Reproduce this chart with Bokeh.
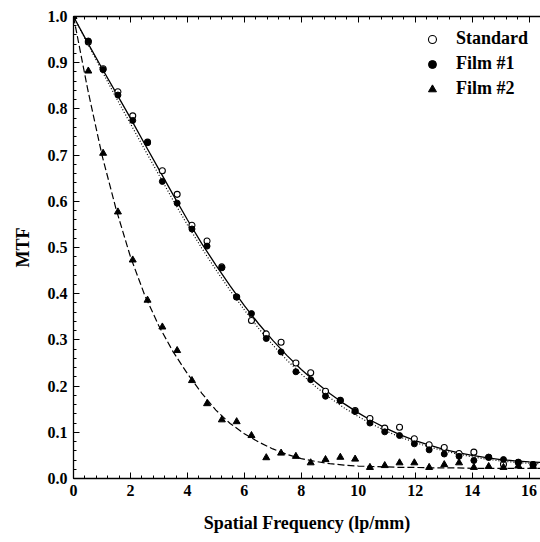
from bokeh.plotting import figure
from bokeh.models import (LinearAxis, Range1d, Legend, LegendItem,
                          SingleIntervalTicker, NumeralTickFormatter)
from bokeh.embed import file_html
from bokeh.resources import INLINE

# measured points
freq = [0.0, 0.52, 1.04, 1.56, 2.08, 2.60, 3.12, 3.64, 4.16, 4.69, 5.21, 5.73,
        6.25, 6.77, 7.29, 7.81, 8.33, 8.85, 9.37, 9.89, 10.41, 10.93, 11.45,
        11.97, 12.49, 13.02, 13.54, 14.06, 14.58, 15.10, 15.62, 16.14]
standard = [1.0, 0.945, 0.887, 0.837, 0.785, 0.728, 0.666, 0.615, 0.548, 0.514,
            0.458, 0.393, 0.342, 0.313, 0.295, 0.250, 0.229, 0.189, 0.169,
            0.147, 0.130, 0.109, 0.111, 0.086, 0.073, 0.067, 0.054, 0.057,
            0.046, 0.031, 0.035, 0.030]
film1 = [1.0, 0.947, 0.885, 0.830, 0.775, 0.727, 0.643, 0.596, 0.540, 0.503,
         0.456, 0.393, 0.357, 0.303, 0.274, 0.231, 0.214, 0.178, 0.169, 0.145,
         0.120, 0.101, 0.093, 0.075, 0.062, 0.053, 0.048, 0.039, 0.046, 0.041,
         0.035, 0.030]
film2 = [1.0, 0.882, 0.704, 0.577, 0.473, 0.386, 0.328, 0.277, 0.212, 0.162,
         0.127, 0.123, 0.093, 0.045, 0.055, 0.048, 0.034, 0.041, 0.046, 0.042,
         0.024, 0.028, 0.034, 0.034, 0.024, 0.030, 0.034, 0.024, 0.026, 0.024,
         0.027, 0.026]

# fitted curves
fit_x = [0.0, 0.5, 1.0, 1.5, 2.0, 2.5, 3.0, 3.5, 4.0, 4.5, 5.0, 5.5, 6.0, 6.5,
         7.0, 7.5, 8.0, 8.5, 9.0, 9.5, 10.0, 10.5, 11.0, 11.5, 12.0, 12.5,
         13.0, 13.5, 14.0, 14.5, 15.0, 15.5, 16.0, 16.4]
fit_standard = [1.0, 0.943, 0.888, 0.834, 0.780, 0.724, 0.669, 0.614, 0.560,
                0.509, 0.462, 0.417, 0.374, 0.335, 0.299, 0.266, 0.236, 0.209,
                0.184, 0.162, 0.142, 0.124, 0.108, 0.094, 0.082, 0.072, 0.063,
                0.056, 0.050, 0.045, 0.041, 0.038, 0.036, 0.035]
fit_film1 = [1.0, 0.941, 0.882, 0.824, 0.768, 0.712, 0.657, 0.602, 0.549,
             0.499, 0.452, 0.407, 0.365, 0.325, 0.289, 0.256, 0.226, 0.199,
             0.175, 0.153, 0.134, 0.117, 0.102, 0.089, 0.078, 0.068, 0.060,
             0.053, 0.047, 0.042, 0.038, 0.035, 0.033, 0.032]
fit_film2 = [1.0, 0.842, 0.700, 0.582, 0.480, 0.397, 0.330, 0.274, 0.227,
             0.185, 0.148, 0.119, 0.097, 0.079, 0.064, 0.052, 0.043, 0.037,
             0.032, 0.029, 0.027, 0.026, 0.025, 0.024, 0.024, 0.023, 0.023,
             0.023, 0.022, 0.022, 0.022, 0.022, 0.022, 0.022]

FONT = "Liberation Serif"

p = figure(width=540, height=540, output_backend="svg", toolbar_location=None,
           x_range=Range1d(0, 16.4), y_range=Range1d(0, 1.0),
           min_border_left=73, min_border_right=0, min_border_top=16,
           min_border_bottom=62)
p.outline_line_color = None
p.grid.visible = False
p.background_fill_color = "white"
p.border_fill_color = "white"

xt = SingleIntervalTicker(interval=2, num_minor_ticks=5)
yt = SingleIntervalTicker(interval=0.1, num_minor_ticks=5)

for ax in (p.xaxis[0], p.yaxis[0]):
    ax.major_tick_in = 6
    ax.major_tick_out = 0
    ax.minor_tick_in = 3
    ax.minor_tick_out = 0
    ax.axis_line_color = "black"
    ax.axis_line_width = 1.3
    ax.major_label_text_font = FONT
    ax.major_label_text_font_style = "bold"
    ax.major_label_text_font_size = "16px"
    ax.major_label_text_color = "black"
    ax.axis_label_text_font = FONT
    ax.axis_label_text_font_style = "bold"
    ax.axis_label_text_font_size = "18px"
    ax.axis_label_text_color = "black"

p.xaxis[0].ticker = xt
p.yaxis[0].ticker = yt
p.yaxis[0].formatter = NumeralTickFormatter(format="0.0")
p.xaxis[0].axis_label = "Spatial Frequency (lp/mm)"
p.yaxis[0].axis_label = "MTF"
p.xaxis[0].major_label_standoff = 6
p.xaxis[0].axis_label_standoff = 14
p.yaxis[0].major_label_standoff = 6
p.yaxis[0].axis_label_standoff = 12

top = LinearAxis(ticker=xt, major_tick_in=6, major_tick_out=0,
                 minor_tick_in=3, minor_tick_out=0,
                 major_label_text_font_size="0px", major_label_standoff=0,
                 axis_line_width=1.3)
top.major_label_text_color = None
p.add_layout(top, "above")

r_fs = p.line(fit_x, fit_standard, line_color="black", line_width=1.3)
r_f1 = p.line(fit_x, fit_film1, line_color="black", line_width=1.2,
              line_dash="1 2")
r_f2 = p.line(fit_x, fit_film2, line_color="black", line_width=1.2,
              line_dash="7 3")

r_s = p.scatter(freq, standard, marker="circle", size=6,
                fill_color="white", line_color="black", line_width=1.1)
r_1 = p.scatter(freq, film1, marker="circle", size=6,
                fill_color="black", line_color="black")
r_2 = p.scatter(freq, film2, marker="triangle", size=7,
                fill_color="black", line_color="black")

legend = Legend(items=[LegendItem(label="Standard", renderers=[r_s]),
                       LegendItem(label="Film #1", renderers=[r_1]),
                       LegendItem(label="Film #2", renderers=[r_2])],
                location="top_right")
legend.border_line_color = None
legend.background_fill_alpha = 0
legend.label_text_font = FONT
legend.label_text_font_style = "bold"
legend.label_text_font_size = "18px"
legend.label_text_color = "black"
legend.glyph_width = 20
legend.glyph_height = 20
legend.label_height = 20
legend.label_standoff = 14
legend.spacing = 4
legend.padding = 1
legend.margin = 12
p.add_layout(legend)

open("out.html", "w").write(file_html(p, INLINE))
